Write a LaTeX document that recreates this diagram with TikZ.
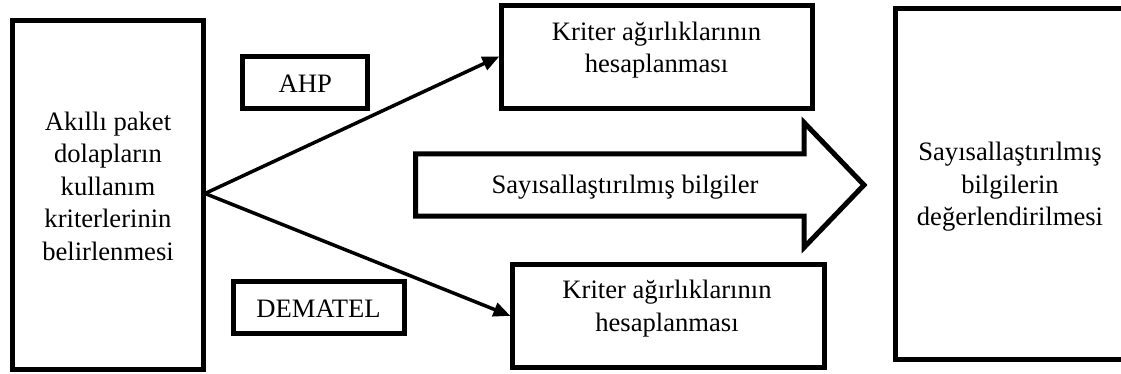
\documentclass[tikz,border=0pt]{standalone}
\usepackage{fontspec}
\setmainfont{Liberation Serif}
\usetikzlibrary{arrows.meta}
\tikzset{
  box/.style={draw=black, line width=5pt, inner sep=0pt},
  txt/.style={align=center, inner sep=0pt, font=\fontsize{26.6pt}{32.5pt}\selectfont},
  conn/.style={line width=3.5pt, -{Triangle[length=17pt,width=14pt]}, shorten >=-1pt},
}
\begin{document}
\begin{tikzpicture}[x=1pt,y=-1pt]
\clip (0,0) rectangle (1121,374);
\fill[white] (0,0) rectangle (1121,374);
% left box
\node[box, minimum width=191pt, minimum height=349.5pt] (L) at (108,195.2) {};
\node[txt] (Lt) at (108,186) {Akıllı paket\\dolapların\\kullanım\\kriterlerinin\\belirlenmesi};
% method labels
\node[box, minimum width=125.5pt, minimum height=52pt] (ahp) at (305.2,82.5) {};
\node[txt] (ahpt) at (305.2,84) {AHP};
\node[box, minimum width=171pt, minimum height=52pt] (dem) at (318.5,307.5) {};
\node[txt] (demt) at (318.5,309) {DEMATEL};
% result boxes
\node[box, minimum width=311pt, minimum height=102.5pt] (T) at (656.5,56.8) {};
\node[txt] (Tt) at (656.5,50) {Kriter ağırlıklarının\\hesaplanması};
\node[box, minimum width=312pt, minimum height=103pt] (B) at (668,315.5) {};
\node[txt] (Bt) at (667,308.5) {Kriter ağırlıklarının\\hesaplanması};
% right box (extends past right edge)
\node[box, minimum width=260pt, minimum height=350.5pt] (R) at (1025,184) {};
\node[txt] (Rt) at (1010,187) {Sayısallaştırılmış\\bilgilerin\\değerlendirilmesi};
% big arrow
\draw[line width=5pt, line join=miter] (415.5,154) -- (804,154) -- (804,122.5) -- (864,185) -- (804,247.5) -- (804,216) -- (415.5,216) -- cycle;
\node[txt] (At) at (625,187) {Sayısallaştırılmış bilgiler};
% connectors
\coordinate (start) at (205,193.5);
\draw[conn] (start) -- (T.west);
\draw[conn] (start) -- (B.west);
\end{tikzpicture}
\end{document}
